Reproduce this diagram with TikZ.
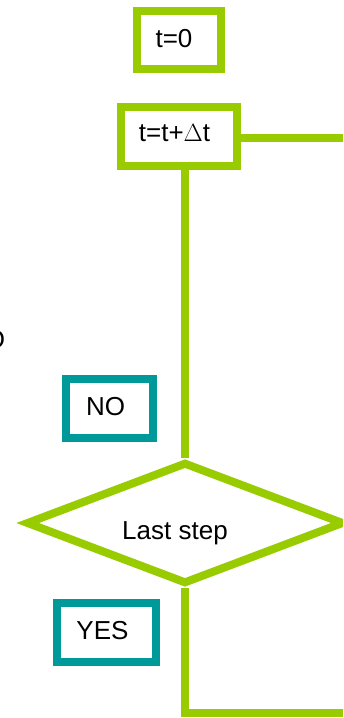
\documentclass[tikz,border=0pt]{standalone}
\usepackage{fontspec}
\setmainfont{Liberation Sans}
\usetikzlibrary{shapes.geometric}
\definecolor{lgreen}{HTML}{99CC00}
\definecolor{lteal}{HTML}{009999}
\tikzset{
  gbox/.style={draw=lgreen, line width=8pt, rectangle, inner sep=0pt, fill=white},
  tbox/.style={draw=lteal, line width=7.5pt, rectangle, inner sep=0pt, fill=white},
  gdia/.style={draw=lgreen, line width=8pt, diamond, inner sep=0pt, fill=white},
  conn/.style={draw=lgreen, line width=8pt},
  txt/.style={inner sep=0pt, anchor=base, font=\fontsize{26}{31}\selectfont}
}
\begin{document}
\begin{tikzpicture}[x=1pt,y=-1pt]
\clip (0,0) rectangle (343,718);
\fill[white] (0,0) rectangle (343,718);
% shapes
\node[gbox, minimum width=84pt, minimum height=58pt] (t0) at (179,40) {};
\node[gbox, minimum width=116pt, minimum height=59pt] (t1) at (179,136.5) {};
\node[tbox, minimum width=87pt, minimum height=59pt] (no) at (109.5,408.5) {};
\node[gdia, minimum width=318pt, minimum height=122pt] (d) at (185,523) {};
\node[tbox, minimum width=99pt, minimum height=59pt] (yes) at (106.5,632.5) {};
% free ends
\coordinate (exitA) at (352,138);
\coordinate (exitB) at (352,713);
% connectors
\draw[conn] (t1.east |- exitA) -- (exitA);
\draw[conn] (d.north |- t1.south) -- (d.north);
\draw[conn] (d.south) |- (exitB);
% texts
\node[txt] (t0text) at (174,47) {t=0};
\node[txt] (t1text) at (174.5,141.7) {t=t+$\Delta$t};
\node[txt] (notext) at (105.5,415) {NO};
\node[txt] (dtext) at (175,539.5) {Last step};
\node[txt] (yestext) at (102.5,639.3) {YES};
\node[txt, anchor=base east] (frag) at (5.2,348) {O};
\end{tikzpicture}
\end{document}
